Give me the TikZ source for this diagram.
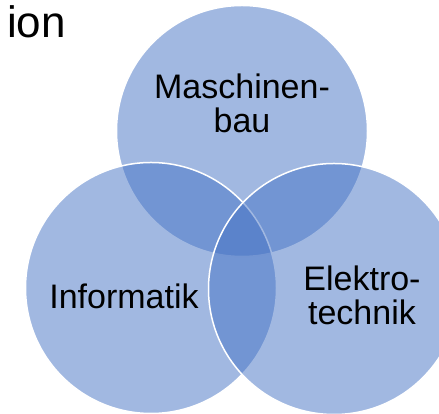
\documentclass[tikz,border=0pt]{standalone}
\usepackage{fontspec}
\setmainfont{Liberation Sans}
\usetikzlibrary{positioning}
\definecolor{accent}{HTML}{4472C4}
\tikzset{
  venn/.style ={circle, draw=white, line width=1.5pt, fill=accent, fill opacity=0.5,
                minimum size=251pt, inner sep=0pt},
  lbl/.style  ={font=\fontsize{34}{34}\selectfont, align=center, inner sep=0pt},
  ttl/.style  ={font=\fontsize{44}{48}\selectfont, inner sep=0pt}
}

\begin{document}
\begin{tikzpicture}[x=1pt,y=1pt]
\useasboundingbox (0,0) rectangle (439,414);
% tail of the title, the rest is off the page
\node[ttl, anchor=base east] (title) at (66,376) {ion};
% the three circles
\node[venn] (mb)  at (242,283) {};
\node[venn] (inf) at (151,126) {};
\node[venn] (et)  at (334,125) {};
% labels (base = last line)
\node[lbl, anchor=base] (mbtxt)  at (242,281) {Maschinen-\\bau};
\node[lbl, anchor=base] (inftxt) at (124,105) {Informatik};
\node[lbl, anchor=base] (ettxt)  at (362,89)  {Elektro-\\technik};
\end{tikzpicture}
\end{document}
